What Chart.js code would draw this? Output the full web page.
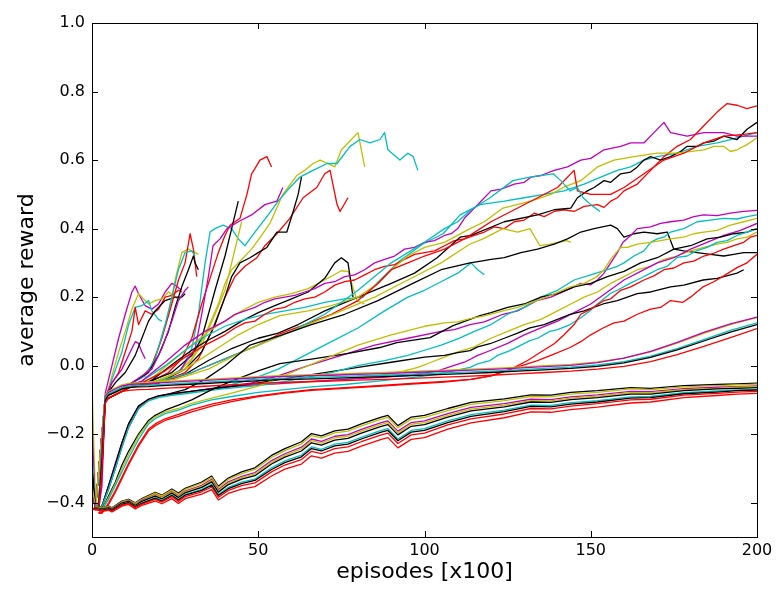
<!DOCTYPE html>
<html><head><meta charset="utf-8">
<script src="https://cdn.jsdelivr.net/npm/chart.js@4.4.1/dist/chart.umd.min.js"></script>
<style>html,body{margin:0;padding:0;background:#fff;}canvas{display:block;}</style>
</head><body>
<canvas id="c" width="778" height="595"></canvas>
<script>
// ---- tick labels ----
const xTickValues = [0, 50, 100, 150, 200];
const yTickValues = [-0.4, -0.2, 0.0, 0.2, 0.4, 0.6, 0.8, 1.0];

// ---- bottom bundle (shared episodes) ----
const xsA = [0,1,3,5,6,9,11,13,15,19,21,24,26,28,33,36,38,41,45,49,54,58,63,66,69,73,77,81,87,89,92,96,100,107,114,124,132,138,144,152,162,168,178,188,194,200];
const A1 = [-0.30,-0.41,-0.415,-0.41,-0.415,-0.395,-0.39,-0.40,-0.388,-0.37,-0.378,-0.36,-0.372,-0.358,-0.34,-0.322,-0.352,-0.328,-0.31,-0.298,-0.262,-0.242,-0.222,-0.198,-0.205,-0.19,-0.185,-0.17,-0.15,-0.145,-0.175,-0.15,-0.145,-0.125,-0.107,-0.097,-0.085,-0.086,-0.078,-0.073,-0.064,-0.066,-0.058,-0.055,-0.053,-0.051];
const A2 = [-0.35,-0.411,-0.416,-0.411,-0.416,-0.397,-0.392,-0.402,-0.39,-0.372,-0.38,-0.363,-0.375,-0.361,-0.343,-0.326,-0.356,-0.332,-0.315,-0.303,-0.268,-0.248,-0.228,-0.204,-0.211,-0.196,-0.191,-0.176,-0.156,-0.151,-0.181,-0.156,-0.151,-0.131,-0.113,-0.102,-0.09,-0.091,-0.083,-0.078,-0.068,-0.07,-0.062,-0.058,-0.056,-0.054];
const A3 = [-0.38,-0.413,-0.418,-0.413,-0.418,-0.399,-0.394,-0.405,-0.393,-0.376,-0.384,-0.367,-0.38,-0.366,-0.349,-0.332,-0.362,-0.339,-0.323,-0.312,-0.277,-0.257,-0.238,-0.214,-0.221,-0.206,-0.201,-0.186,-0.166,-0.161,-0.191,-0.166,-0.161,-0.14,-0.122,-0.111,-0.098,-0.099,-0.091,-0.085,-0.075,-0.076,-0.067,-0.063,-0.061,-0.059];
const A9 = [-0.42,-0.413,-0.418,-0.414,-0.419,-0.40,-0.395,-0.406,-0.395,-0.378,-0.386,-0.369,-0.382,-0.368,-0.352,-0.335,-0.365,-0.343,-0.327,-0.316,-0.282,-0.262,-0.243,-0.219,-0.226,-0.211,-0.206,-0.191,-0.171,-0.166,-0.196,-0.171,-0.166,-0.145,-0.127,-0.115,-0.102,-0.103,-0.095,-0.089,-0.079,-0.079,-0.07,-0.066,-0.063,-0.061];
const A4 = [-0.42,-0.414,-0.419,-0.415,-0.42,-0.401,-0.396,-0.408,-0.396,-0.381,-0.389,-0.372,-0.385,-0.371,-0.355,-0.339,-0.369,-0.347,-0.331,-0.321,-0.287,-0.267,-0.249,-0.225,-0.232,-0.217,-0.212,-0.197,-0.177,-0.172,-0.202,-0.177,-0.172,-0.15,-0.132,-0.12,-0.106,-0.107,-0.099,-0.093,-0.083,-0.083,-0.073,-0.068,-0.066,-0.064];
const A5 = [-0.42,-0.416,-0.421,-0.417,-0.422,-0.404,-0.399,-0.411,-0.4,-0.385,-0.393,-0.377,-0.39,-0.376,-0.361,-0.346,-0.376,-0.355,-0.34,-0.331,-0.298,-0.278,-0.261,-0.237,-0.244,-0.229,-0.224,-0.209,-0.189,-0.184,-0.214,-0.189,-0.184,-0.161,-0.143,-0.13,-0.115,-0.116,-0.108,-0.102,-0.091,-0.09,-0.079,-0.074,-0.071,-0.069];
const A8 = [-0.42,-0.417,-0.422,-0.418,-0.423,-0.405,-0.40,-0.412,-0.402,-0.387,-0.395,-0.379,-0.392,-0.378,-0.364,-0.349,-0.379,-0.359,-0.344,-0.335,-0.303,-0.283,-0.266,-0.242,-0.249,-0.234,-0.229,-0.214,-0.194,-0.189,-0.219,-0.194,-0.189,-0.166,-0.148,-0.134,-0.119,-0.12,-0.112,-0.106,-0.095,-0.093,-0.082,-0.077,-0.073,-0.071];
const A6 = [-0.42,-0.418,-0.423,-0.42,-0.425,-0.407,-0.402,-0.414,-0.404,-0.39,-0.398,-0.382,-0.396,-0.382,-0.368,-0.354,-0.384,-0.364,-0.35,-0.342,-0.31,-0.29,-0.274,-0.25,-0.257,-0.242,-0.237,-0.222,-0.202,-0.197,-0.227,-0.202,-0.197,-0.173,-0.155,-0.141,-0.125,-0.126,-0.118,-0.111,-0.1,-0.098,-0.086,-0.081,-0.077,-0.075];
const A7 = [-0.42,-0.42,-0.425,-0.422,-0.427,-0.41,-0.405,-0.418,-0.408,-0.395,-0.403,-0.388,-0.402,-0.388,-0.375,-0.362,-0.392,-0.373,-0.36,-0.353,-0.322,-0.302,-0.287,-0.263,-0.27,-0.255,-0.25,-0.235,-0.215,-0.21,-0.24,-0.215,-0.21,-0.185,-0.167,-0.152,-0.135,-0.136,-0.128,-0.121,-0.109,-0.106,-0.093,-0.087,-0.083,-0.081];

// ---- middle bundle (shared episodes) ----
const xsB = [0,1,2,3,4,5,7,9,11,14,17,20,24,28,34,40,48,56,64,72,80,88,96,104,112,120,128,136,144,152,160,168,176,184,192,200];
const Byel = [-0.05,-0.38,-0.42,-0.2,-0.085,-0.075,-0.065,-0.056,-0.052,-0.05,-0.049,-0.047,-0.045,-0.043,-0.04,-0.037,-0.033,-0.029,-0.027,-0.025,-0.022,-0.02,-0.017,-0.014,-0.011,-0.008,-0.004,0.0,0.004,0.011,0.022,0.04,0.066,0.094,0.12,0.14];
const Bmag = [-0.17,-0.42,-0.41,-0.22,-0.09,-0.078,-0.068,-0.059,-0.055,-0.053,-0.052,-0.05,-0.048,-0.046,-0.043,-0.04,-0.036,-0.032,-0.03,-0.028,-0.025,-0.023,-0.02,-0.017,-0.014,-0.011,-0.007,-0.003,0.001,0.009,0.022,0.042,0.068,0.097,0.122,0.142];
const Bcyn = [-0.25,-0.42,-0.4,-0.25,-0.095,-0.082,-0.073,-0.064,-0.06,-0.058,-0.057,-0.055,-0.053,-0.051,-0.048,-0.045,-0.041,-0.037,-0.035,-0.033,-0.03,-0.028,-0.025,-0.022,-0.019,-0.016,-0.012,-0.008,-0.004,0.002,0.012,0.028,0.05,0.076,0.103,0.125];
const Bblk = [-0.3,-0.42,-0.41,-0.27,-0.1,-0.086,-0.077,-0.068,-0.064,-0.062,-0.061,-0.059,-0.057,-0.055,-0.052,-0.049,-0.045,-0.041,-0.039,-0.037,-0.034,-0.032,-0.029,-0.026,-0.023,-0.02,-0.016,-0.012,-0.008,-0.002,0.008,0.024,0.046,0.072,0.098,0.12];
const Bred = [-0.35,-0.42,-0.42,-0.3,-0.11,-0.094,-0.085,-0.076,-0.072,-0.07,-0.069,-0.067,-0.065,-0.063,-0.06,-0.057,-0.053,-0.049,-0.047,-0.045,-0.042,-0.04,-0.037,-0.034,-0.031,-0.028,-0.024,-0.02,-0.016,-0.01,-0.002,0.012,0.032,0.056,0.082,0.108];

// ---- individual runs: [episode, reward] ----
const E1 = [[1,-0.42],[2,-0.40],[3,-0.25],[4,-0.08],[6,0.0],[8,0.08],[10,0.15],[12,0.215],[13,0.232],[14,0.21],[16,0.175],[18,0.165],[20,0.18],[22,0.215],[24,0.24],[25,0.235],[27,0.22]];
const E2 = [[1,-0.42],[2,-0.41],[3,-0.3],[4,-0.1],[6,-0.03],[8,0.04],[10,0.1],[12,0.165],[14,0.21],[15,0.2],[17,0.18],[19,0.19],[21,0.195],[23,0.215],[25,0.2],[26,0.195]];
const E3 = [[2,-0.42],[3,-0.3],[4,-0.1],[6,-0.04],[9,0.04],[11,0.12],[13,0.17],[15,0.175],[17,0.19],[18,0.16],[20,0.135],[21,0.13]];
const E4 = [[2,-0.42],[3,-0.3],[4,-0.1],[6,-0.05],[8,-0.02],[10,0.04],[12,0.1],[13,0.17],[14,0.12],[16,0.16],[18,0.15],[20,0.165],[22,0.2],[24,0.205],[26,0.22],[27,0.215]];
const E5 = [[2,-0.42],[3,-0.35],[4,-0.09],[6,-0.05],[9,-0.01],[11,0.03],[13,0.07],[14,0.065],[15,0.04],[16,0.02]];
const E6 = [[2,-0.42],[3,-0.3],[4,-0.09],[7,-0.05],[10,-0.02],[13,0.03],[15,0.08],[17,0.13],[19,0.16],[22,0.19],[25,0.2],[27,0.2],[28,0.21]];
const S1 = [[1,-0.42],[3,-0.2],[4,-0.09],[10,-0.06],[14,-0.04],[17,-0.02],[20,0.05],[23,0.15],[25,0.25],[27,0.33],[29,0.34],[30,0.335],[32,0.325]];
const S2 = [[1,-0.42],[3,-0.2],[4,-0.09],[10,-0.06],[15,-0.035],[18,0.0],[21,0.08],[24,0.18],[26,0.25],[28,0.3],[29.5,0.385],[30.5,0.34],[31.5,0.26]];
const S3 = [[1,-0.42],[3,-0.2],[4,-0.09],[11,-0.055],[16,-0.03],[19,0.02],[22,0.12],[24,0.2],[26,0.28],[28,0.33],[30,0.335],[31,0.32]];
const S4 = [[1,-0.42],[3,-0.2],[4,-0.09],[12,-0.05],[17,-0.02],[20,0.03],[23,0.1],[25,0.17],[27,0.23],[29,0.28],[30.5,0.32],[31,0.3],[32,0.28]];
const S5 = [[1,-0.42],[3,-0.2],[4,-0.09],[12,-0.05],[18,-0.01],[21,0.05],[24,0.13],[26,0.19],[28,0.22],[29,0.23]];
const D1 = [[1,-0.42],[3,-0.2],[4,-0.09],[12,-0.055],[20,-0.045],[26,-0.02],[30,0.02],[34,0.09],[38,0.18],[40,0.24],[42,0.28],[45,0.31],[48,0.34],[51,0.38],[53.5,0.415],[57.4,0.5],[61.6,0.555],[64,0.57],[66.5,0.59],[68.6,0.6],[71,0.59],[73,0.58],[75,0.63],[77,0.65],[80,0.68],[82,0.58]];
const D2 = [[1,-0.42],[3,-0.2],[4,-0.09],[12,-0.055],[20,-0.047],[27,-0.01],[30,0.05],[32,0.15],[34,0.3],[35.5,0.39],[37,0.4],[39.4,0.41],[42,0.4],[44,0.37],[46,0.35],[49,0.39],[53,0.44],[56,0.48],[59.5,0.52],[62.5,0.55],[66.5,0.57],[70.7,0.59],[73.7,0.59],[77.6,0.64],[80.6,0.66],[83.6,0.65],[86.6,0.66],[88,0.68],[89,0.63],[92.6,0.6],[95,0.62],[96.6,0.61],[98,0.57]];
const D3 = [[1,-0.42],[3,-0.2],[4,-0.1],[12,-0.06],[20,-0.05],[28,-0.02],[32,0.02],[36,0.1],[40,0.2],[43,0.26],[46,0.29],[49.6,0.315],[52,0.35],[55.6,0.385],[59.5,0.43],[63.5,0.49],[67.6,0.52],[70,0.56],[71.6,0.57],[73.7,0.47],[74.6,0.45],[77,0.49]];
const D4 = [[1,-0.42],[3,-0.2],[4,-0.09],[12,-0.055],[18,-0.045],[23,-0.02],[27,0.02],[30,0.08],[33,0.18],[36,0.27],[38,0.33],[40,0.38],[41.5,0.41],[44.5,0.43],[46.6,0.5],[48,0.56],[49,0.575],[50.5,0.6],[52.6,0.61],[54,0.58]];
const D5 = [[1,-0.42],[3,-0.2],[4,-0.1],[12,-0.06],[20,-0.05],[28,-0.01],[33,0.04],[37,0.12],[40,0.2],[42,0.26],[44.5,0.3],[47.5,0.315],[50,0.33],[52.6,0.345],[55.6,0.39],[58.6,0.39],[60.5,0.45],[62,0.5],[63,0.55]];
const D6 = [[1,-0.42],[3,-0.2],[4,-0.09],[12,-0.055],[16,-0.05],[24,-0.02],[30,0.03],[33,0.08],[35,0.15],[37,0.22],[40,0.32],[42,0.4],[44,0.48]];
const D7 = [[1,-0.42],[3,-0.2],[4,-0.09],[12,-0.055],[18,-0.05],[26,-0.02],[31,0.05],[33,0.15],[35,0.26],[36.4,0.35],[38.5,0.37],[40.6,0.4],[44,0.42],[48,0.44],[52,0.47],[55.6,0.48],[57.4,0.52]];
const D8 = [[1,-0.42],[3,-0.2],[4,-0.09],[12,-0.055],[18,-0.05],[28,-0.01],[33,0.06],[37,0.15],[40,0.22],[42,0.3],[43,0.34],[45,0.42]];
const T2y = [[1,-0.42],[3,-0.2],[4,-0.09],[12,-0.055],[17,-0.045],[25,0.02],[30,0.06],[35,0.1],[40,0.13],[45,0.16],[50,0.185],[55,0.2],[60,0.21],[65,0.225],[70,0.25],[75,0.277],[77,0.275],[79.7,0.19],[82,0.18]];
const T2k = [[1,-0.42],[3,-0.2],[4,-0.09],[12,-0.055],[17,-0.05],[25,0.01],[30,0.045],[35,0.075],[40,0.1],[45,0.13],[50,0.155],[55,0.175],[60,0.195],[65,0.215],[70,0.255],[73,0.3],[75,0.315],[77,0.3],[78.5,0.2]];
const H4c = [[1,-0.42],[3,-0.2],[4,-0.09],[12,-0.055],[15,-0.045],[22,0.0],[28,0.045],[34,0.085],[40,0.115],[46,0.135],[52,0.15],[58,0.16],[64,0.17],[70,0.185],[76,0.195],[81.5,0.2],[84.5,0.23],[88.7,0.27],[92.6,0.306],[99.5,0.355],[105.6,0.385],[110.7,0.44],[116.7,0.47],[124,0.48],[130,0.49],[136,0.5],[142,0.51],[148,0.53],[153,0.55],[158,0.57],[162,0.58],[166,0.6],[170,0.61],[176,0.62],[182,0.64],[188,0.65],[192,0.66],[196,0.67],[200,0.68]];
const H3m = [[1,-0.42],[3,-0.2],[4,-0.09],[12,-0.055],[15,-0.045],[22,0.01],[28,0.06],[34,0.1],[40,0.13],[43,0.15],[46,0.16],[49,0.17],[52,0.185],[55,0.195],[58,0.2],[61,0.205],[64,0.215],[67,0.225],[70,0.24],[73,0.245],[76,0.26],[79,0.265],[82,0.28],[85,0.3],[88,0.31],[91,0.32],[94,0.34],[97,0.345],[100,0.36],[103,0.365],[106,0.38],[108,0.385],[110,0.4],[112,0.43],[114,0.45],[117,0.48],[120,0.51],[123,0.515],[127,0.53],[130,0.535],[132,0.55],[135,0.555],[139,0.57],[143,0.58],[147,0.6],[150,0.605],[154,0.63],[159,0.64],[162,0.65],[166,0.65],[169,0.68],[172,0.71],[174,0.68],[179,0.67],[184,0.68],[190,0.68],[194,0.67],[200,0.67]];
const H1r = [[1,-0.42],[3,-0.2],[4,-0.1],[12,-0.06],[15,-0.05],[22,-0.015],[28,0.025],[34,0.06],[40,0.09],[43,0.11],[46,0.125],[49,0.13],[52,0.15],[55,0.165],[58,0.17],[61,0.185],[64,0.195],[67,0.2],[70,0.215],[73,0.235],[76,0.245],[79,0.25],[82,0.265],[85,0.28],[88,0.29],[91,0.295],[94,0.31],[97,0.325],[100,0.33],[103,0.335],[106,0.35],[109,0.365],[112,0.37],[115,0.38],[118,0.39],[121,0.405],[124,0.4],[127,0.42],[130,0.425],[133,0.445],[136,0.435],[139,0.45],[142,0.455],[145,0.45],[148,0.465],[152,0.47],[154,0.462],[156,0.48],[158,0.49],[160,0.51],[164,0.53],[168,0.57],[172,0.61],[176,0.64],[180,0.66],[184,0.7],[188,0.74],[191,0.765],[194,0.76],[197,0.75],[200,0.758]];
const H2k = [[1,-0.42],[3,-0.2],[4,-0.1],[12,-0.06],[20,-0.05],[28,-0.025],[35,0.015],[42,0.05],[50,0.08],[56,0.095],[62,0.12],[70,0.16],[80,0.2],[90,0.24],[97,0.27],[103.8,0.315],[110.7,0.375],[114,0.38],[124,0.42],[134,0.44],[139,0.455],[144,0.46],[146,0.49],[149,0.51],[151,0.52],[154,0.54],[156,0.535],[159,0.56],[162,0.565],[164,0.58],[166,0.6],[168,0.61],[171,0.6],[174,0.61],[177,0.625],[179,0.64],[182,0.64],[184,0.65],[187,0.655],[190,0.67],[192,0.665],[194,0.66],[197,0.69],[200,0.71]];
const H5y = [[1,-0.42],[3,-0.2],[4,-0.09],[12,-0.055],[20,-0.045],[28,-0.01],[36,0.04],[44,0.09],[50,0.12],[56.5,0.146],[65,0.16],[72,0.175],[80,0.2],[86,0.24],[90,0.28],[95,0.32],[100,0.345],[106,0.36],[113.7,0.4],[118,0.42],[123.6,0.46],[132,0.48],[138,0.5],[141.7,0.52],[147,0.54],[152,0.58],[157,0.6],[163,0.61],[170,0.62],[176,0.62],[184,0.63],[187,0.64],[190,0.64],[192,0.625],[194,0.63],[197,0.645],[200,0.665]];
const H6r = [[1,-0.42],[3,-0.2],[4,-0.1],[12,-0.06],[20,-0.05],[30,-0.02],[40,0.02],[50,0.06],[56.5,0.093],[64,0.12],[72,0.15],[80,0.19],[86,0.24],[90,0.28],[95,0.3],[100,0.32],[106,0.34],[112,0.37],[120,0.42],[126,0.45],[134,0.49],[140,0.52],[145,0.57],[146,0.51],[150,0.5],[156,0.5],[160,0.52],[166,0.56],[172,0.6],[178,0.62],[184,0.65],[190,0.67],[196,0.675],[200,0.68]];
const Hc = [[1,-0.42],[3,-0.2],[4,-0.09],[12,-0.055],[20,-0.045],[30,-0.02],[40,0.02],[50,0.06],[60,0.1],[70,0.15],[80,0.22],[90,0.3],[100,0.36],[106,0.4],[110,0.42],[113.7,0.453],[119.7,0.49],[126.6,0.54],[131.7,0.55],[138.7,0.56],[141,0.54],[143.8,0.51],[146,0.52],[147.7,0.49],[150,0.47],[152.8,0.45]];
const Yh = [[1,-0.42],[3,-0.2],[4,-0.09],[12,-0.055],[25,-0.04],[35,-0.01],[45,0.04],[55,0.08],[65,0.12],[75,0.16],[85,0.2],[95,0.25],[105,0.3],[113.7,0.355],[117.6,0.37],[123.6,0.4],[128,0.39],[131.7,0.4],[134.7,0.35],[137.7,0.355],[142.8,0.365],[144,0.36]];
const C118 = [[2,-0.42],[3,-0.41],[5,-0.35],[7,-0.29],[9,-0.23],[11,-0.175],[14,-0.12],[17,-0.1],[20,-0.09],[24,-0.085],[28,-0.08],[34,-0.07],[40,-0.06],[48,-0.04],[56,-0.01],[64,0.03],[72,0.07],[80,0.11],[88,0.16],[95,0.2],[100,0.22],[106,0.25],[110,0.27],[114,0.3],[116,0.28],[118,0.265]];
const M1 = [[2,-0.42],[3,-0.41],[5,-0.35],[7,-0.29],[9,-0.23],[11,-0.175],[14,-0.12],[17,-0.1],[20,-0.09],[24,-0.083],[28,-0.078],[34,-0.07],[40,-0.062],[48,-0.05],[56,-0.03],[65,0.0],[75,0.03],[85,0.06],[95,0.08],[105,0.1],[109,0.105],[113.7,0.12],[118,0.128],[123.6,0.15],[128,0.16],[133.8,0.19],[138,0.2],[143.8,0.225],[147,0.24],[150,0.236],[152,0.25],[154,0.27],[156,0.3],[158,0.33],[159.7,0.36],[162,0.38],[164,0.4],[168,0.405],[171,0.415],[174,0.42],[178,0.425],[181,0.435],[184,0.44],[188,0.438],[192,0.445],[196,0.45],[200,0.453]];
const M2 = [[2,-0.42],[3,-0.41],[5,-0.36],[7,-0.3],[9,-0.24],[11,-0.18],[14,-0.125],[17,-0.103],[20,-0.093],[24,-0.087],[28,-0.082],[34,-0.074],[40,-0.067],[48,-0.06],[56,-0.05],[64,-0.035],[72,-0.02],[80,0.0],[88,0.015],[95,0.03],[100,0.045],[105,0.06],[110,0.078],[115,0.1],[120,0.12],[125,0.15],[130,0.17],[135,0.2],[140,0.22],[145,0.25],[150,0.265],[155,0.28],[158,0.29],[160,0.3],[163,0.32],[166,0.335],[168,0.36],[170,0.37],[172,0.375],[174,0.39],[178,0.4],[182,0.42],[186,0.425],[190,0.43],[194,0.428],[197,0.435],[200,0.44]];
const M3 = [[2,-0.43],[3,-0.42],[5,-0.39],[7,-0.35],[9,-0.31],[11,-0.27],[14,-0.215],[17,-0.17],[19,-0.155],[22,-0.14],[26,-0.13],[30,-0.115],[36,-0.1],[42,-0.09],[50,-0.078],[58,-0.07],[66,-0.062],[76,-0.055],[86,-0.045],[96,-0.035],[104,-0.025],[113.7,-0.005],[116,0.005],[119.7,0.015],[122,0.03],[125.7,0.044],[128,0.055],[131.7,0.073],[134,0.08],[137.7,0.1],[140,0.105],[143.8,0.12],[147,0.14],[149.8,0.16],[152,0.18],[155.8,0.21],[158,0.22],[161.8,0.24],[165,0.255],[168,0.27],[170,0.28],[173,0.29],[176,0.316],[179,0.32],[182,0.336],[185,0.345],[188,0.36],[191,0.365],[194,0.38],[197,0.39],[200,0.4]];
const M4 = [[2,-0.43],[3,-0.42],[5,-0.385],[7,-0.345],[9,-0.3],[11,-0.26],[14,-0.205],[17,-0.165],[19,-0.15],[22,-0.135],[26,-0.125],[30,-0.11],[36,-0.095],[42,-0.08],[50,-0.06],[60,-0.02],[70,0.02],[80,0.06],[90,0.09],[100,0.115],[106,0.125],[110,0.128],[113.7,0.137],[118,0.145],[123.6,0.16],[128,0.17],[133.8,0.19],[138,0.205],[143.8,0.23],[148,0.24],[151.9,0.26],[154,0.28],[156,0.31],[159,0.345],[161,0.345],[164,0.355],[168,0.36],[171,0.365],[174,0.37],[178,0.375],[181,0.385],[184,0.39],[188,0.395],[192,0.41],[196,0.42],[200,0.43]];
const M5 = [[2,-0.42],[3,-0.41],[5,-0.36],[7,-0.3],[9,-0.235],[11,-0.18],[14,-0.125],[17,-0.1],[20,-0.09],[24,-0.08],[28,-0.07],[34,-0.04],[40,0.0],[47.5,0.06],[56.5,0.088],[66,0.12],[76,0.15],[86,0.19],[96.5,0.24],[105,0.28],[113.7,0.3],[117,0.305],[120,0.31],[124,0.315],[129,0.33],[134,0.34],[139,0.355],[143,0.37],[147,0.39],[151,0.4],[156,0.41],[158,0.4],[160,0.375],[163,0.385],[166,0.39],[170,0.385],[173,0.39],[175,0.34],[178,0.335],[182,0.33],[186,0.325],[190,0.32],[193,0.325],[196,0.33],[200,0.33]];
const M6 = [[2,-0.42],[3,-0.42],[5,-0.38],[7,-0.34],[9,-0.29],[11,-0.25],[14,-0.2],[17,-0.16],[19,-0.145],[22,-0.13],[26,-0.115],[30,-0.1],[36,-0.07],[42,-0.045],[50,-0.015],[56.5,0.006],[66.5,0.02],[76.7,0.035],[86.6,0.053],[91.7,0.067],[101.7,0.082],[108.6,0.117],[116.7,0.146],[120,0.155],[125,0.17],[130,0.18],[135,0.2],[140,0.21],[145,0.23],[150,0.24],[155,0.26],[160,0.275],[165,0.3],[170,0.315],[175,0.34],[180,0.35],[185,0.37],[189,0.375],[193,0.385],[197,0.39],[200,0.4]];
const M7 = [[2,-0.42],[3,-0.41],[5,-0.35],[7,-0.29],[9,-0.225],[11,-0.17],[14,-0.118],[17,-0.098],[20,-0.088],[24,-0.082],[28,-0.077],[34,-0.07],[40,-0.063],[50,-0.05],[60,-0.035],[70,-0.02],[80,-0.005],[90,0.01],[100,0.025],[106,0.03],[110,0.038],[113.7,0.044],[116,0.055],[119.7,0.064],[124,0.08],[128,0.095],[131.7,0.11],[136,0.12],[140,0.135],[143.8,0.15],[148,0.16],[153.7,0.18],[158,0.19],[164,0.21],[168,0.215],[174,0.23],[178,0.235],[183.8,0.25],[188,0.255],[194,0.27],[196,0.28]];
const M9 = [[2,-0.43],[3,-0.43],[5,-0.4],[7,-0.365],[9,-0.325],[11,-0.285],[14,-0.23],[17,-0.185],[19,-0.17],[22,-0.155],[26,-0.142],[30,-0.128],[36,-0.112],[42,-0.1],[50,-0.088],[58,-0.078],[66,-0.07],[76,-0.064],[86,-0.058],[96,-0.052],[106,-0.046],[114,-0.04],[120,-0.03],[126,-0.01],[131,0.015],[135,0.04],[139,0.064],[142,0.09],[145,0.12],[147,0.15],[150,0.165],[154,0.19],[156,0.195],[159,0.22],[162,0.23],[166,0.25],[169,0.262],[172,0.28],[175,0.285],[178,0.3],[181,0.305],[184,0.32],[187,0.328],[190,0.34],[193,0.35],[196,0.36],[198,0.375],[200,0.38]];
const M10 = [[2,-0.43],[3,-0.43],[5,-0.405],[7,-0.37],[9,-0.33],[11,-0.29],[14,-0.235],[17,-0.19],[19,-0.175],[22,-0.16],[26,-0.148],[30,-0.135],[36,-0.118],[42,-0.105],[50,-0.09],[58,-0.08],[66,-0.072],[76,-0.066],[86,-0.06],[96,-0.054],[106,-0.048],[114,-0.04],[120,-0.03],[126,-0.01],[134,0.015],[138,0.03],[143.8,0.053],[147,0.07],[150,0.09],[153.7,0.11],[157,0.125],[160,0.13],[164,0.15],[168,0.165],[171,0.17],[174,0.19],[177.7,0.185],[180,0.2],[183.8,0.23],[187,0.245],[190,0.262],[194,0.286],[197,0.3],[200,0.325]];
const M11 = [[2,-0.42],[3,-0.41],[5,-0.35],[7,-0.285],[9,-0.225],[11,-0.17],[14,-0.118],[17,-0.098],[20,-0.088],[24,-0.082],[28,-0.077],[34,-0.069],[40,-0.063],[48,-0.057],[56,-0.052],[66,-0.046],[76,-0.04],[86,-0.035],[96,-0.028],[104,-0.015],[108,-0.002],[112,0.01],[116,0.03],[120,0.045],[125,0.065],[130,0.09],[135,0.11],[140,0.13],[145,0.155],[150,0.18],[155,0.215],[160,0.25],[165,0.275],[170,0.3],[175,0.315],[180,0.34],[185,0.36],[190,0.38],[195,0.395],[200,0.415]];
const M12 = [[2,-0.42],[3,-0.41],[5,-0.355],[7,-0.29],[9,-0.23],[11,-0.172],[14,-0.12],[17,-0.1],[20,-0.09],[24,-0.084],[28,-0.079],[34,-0.071],[40,-0.064],[48,-0.058],[56,-0.053],[66,-0.047],[76,-0.04],[86,-0.03],[94,-0.015],[98,-0.005],[102,0.01],[106,0.025],[110,0.04],[115,0.055],[120,0.08],[125,0.1],[130,0.12],[135,0.135],[140,0.16],[144,0.18],[148,0.2],[152,0.215],[156,0.24],[160,0.26],[164,0.28],[168,0.29],[172,0.31],[176,0.32],[180,0.335],[184,0.345],[188,0.355],[191,0.36],[194,0.37],[197,0.375],[200,0.39]];

const COL = {r:'#ff0000', c:'#00bfbf', m:'#bf00bf', y:'#bfbf00', k:'#000000'};
const gridSeries = [
  [xsA,A7,'r'],[xsA,A6,'r'],[xsA,A8,'k'],[xsA,A5,'c'],[xsA,A4,'k'],[xsA,A9,'y'],[xsA,A3,'m'],[xsA,A2,'y'],[xsA,A1,'k'],
  [xsB,Bred,'r'],[xsB,Bblk,'k'],[xsB,Bcyn,'c'],[xsB,Bmag,'m'],[xsB,Byel,'y']
];
const pairSeries = [
  [M10,'r'],[M9,'r'],[M3,'c'],[M4,'y'],[M6,'k'],[M2,'c'],[M7,'k'],[M11,'m'],[M12,'y'],[M1,'m'],[M5,'k'],
  [C118,'c'],[Yh,'y'],[Hc,'c'],[H6r,'r'],[H5y,'y'],[H2k,'k'],[H1r,'r'],[H3m,'m'],[H4c,'c'],
  [T2k,'k'],[T2y,'y'],[D8,'y'],[D7,'m'],[D6,'k'],[D5,'k'],[D4,'r'],[D3,'r'],[D2,'c'],[D1,'y'],
  [S5,'m'],[S4,'k'],[S3,'c'],[S2,'r'],[S1,'y'],
  [E6,'k'],[E5,'m'],[E4,'r'],[E3,'c'],[E2,'y'],[E1,'m']
];

const datasets = [];
function ds(points, col){
  return {data: points, borderColor: COL[col], borderWidth: 1.3, pointRadius: 0, fill: false, tension: 0};
}
gridSeries.forEach(([xs, ys, col]) => datasets.push(ds(xs.map((x,i)=>({x:x, y:ys[i]})), col)));
pairSeries.forEach(([p, col]) => datasets.push(ds(p.map(q=>({x:q[0], y:q[1]})), col)));

const fmtY = v => { const s = Math.abs(v).toFixed(1); return v < -1e-9 ? '\u2212' + s : s; };

const frameTicks = {
  id: 'frameTicks',
  afterDraw(chart){
    const {ctx, chartArea:{left,right,top,bottom}, scales:{x,y}} = chart;
    ctx.save();
    ctx.strokeStyle = '#000';
    ctx.lineWidth = 1;
    ctx.beginPath();
    xTickValues.forEach(v => {
      const px = Math.round(x.getPixelForValue(v)) + 0.5;
      ctx.moveTo(px, bottom); ctx.lineTo(px, bottom - 6);
      ctx.moveTo(px, top); ctx.lineTo(px, top + 6);
    });
    yTickValues.forEach(v => {
      const py = Math.round(y.getPixelForValue(v)) + 0.5;
      ctx.moveTo(left, py); ctx.lineTo(left + 6, py);
      ctx.moveTo(right, py); ctx.lineTo(right - 6, py);
    });
    ctx.stroke();
    ctx.strokeRect(Math.round(left) + 0.5, Math.round(top) + 0.5, Math.round(right - left), Math.round(bottom - top));
    ctx.restore();
  }
};

new Chart(document.getElementById('c'), {
  type: 'line',
  data: {datasets},
  options: {
    responsive: false, animation: false, devicePixelRatio: 1,
    layout: {padding: {top: 23, right: 21, left: 0, bottom: 0}},
    plugins: {legend: {display: false}, tooltip: {enabled: false}},
    elements: {line: {borderCapStyle: 'butt', borderJoinStyle: 'round'}},
    scales: {
      x: {
        type: 'linear', min: 0, max: 200,
        grid: {display: false, drawTicks: false}, border: {display: false},
        afterBuildTicks: s => { s.ticks = xTickValues.map(v => ({value: v})); },
        afterFit: s => { s.height = 58; },
        ticks: {padding: 4, color: '#000', maxRotation: 0, autoSkip: false,
                font: {family: 'DejaVu Sans', size: 16}, callback: v => String(v)},
        title: {display: true, text: 'episodes [x100]', color: '#000',
                font: {family: 'DejaVu Sans', size: 22}, padding: {top: 0, bottom: 10}}
      },
      y: {
        type: 'linear', min: -0.5, max: 1.0,
        grid: {display: false, drawTicks: false}, border: {display: false},
        afterBuildTicks: s => { s.ticks = yTickValues.map(v => ({value: v})); },
        afterFit: s => { s.width = 92; },
        ticks: {padding: 7, color: '#000', autoSkip: false,
                font: {family: 'DejaVu Sans', size: 16}, callback: v => fmtY(v)},
        title: {display: true, text: 'average reward', color: '#000',
                font: {family: 'DejaVu Sans', size: 22}, padding: {top: 14, bottom: 0}}
      }
    }
  },
  plugins: [frameTicks]
});
</script>
</body></html>
